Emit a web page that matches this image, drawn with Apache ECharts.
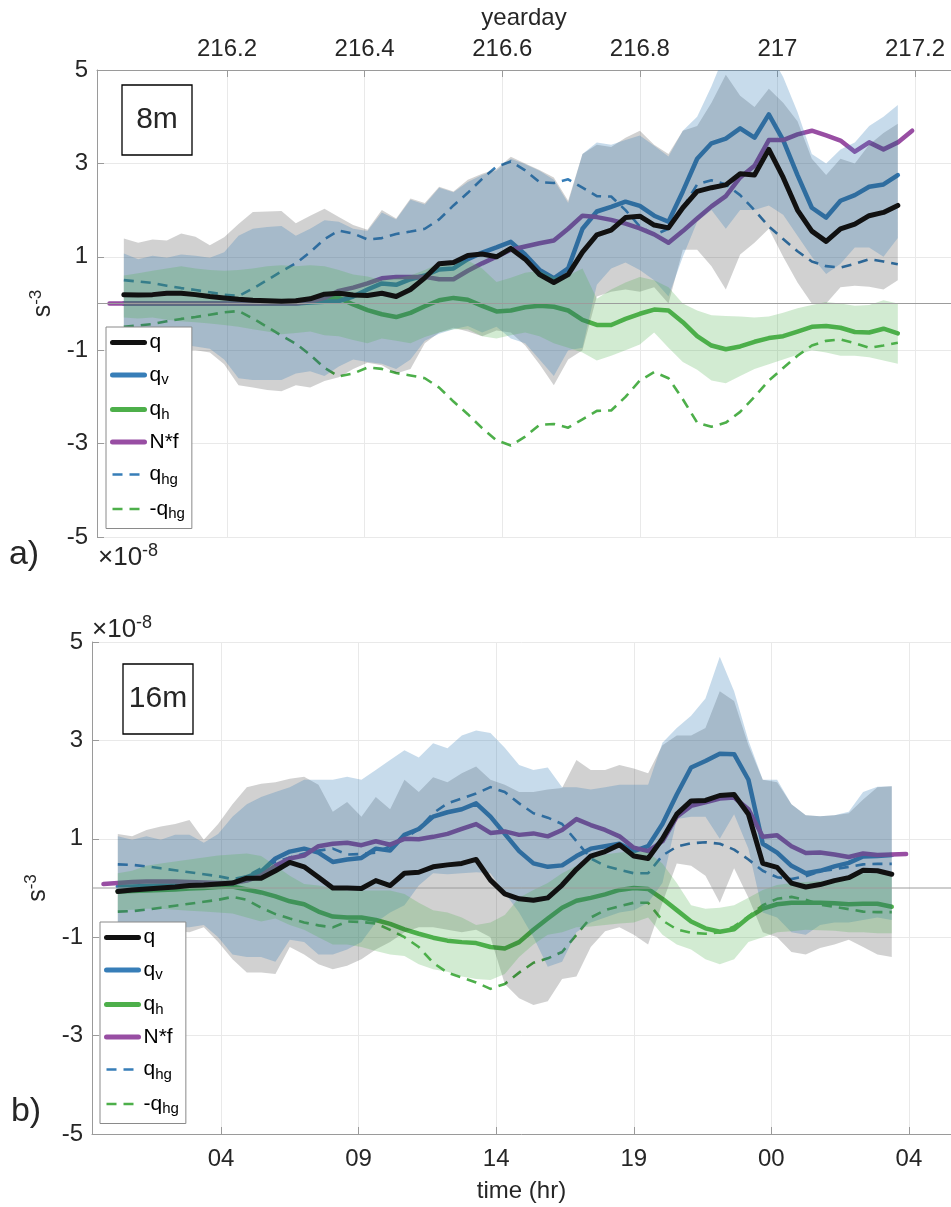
<!DOCTYPE html>
<html>
<head>
<meta charset="utf-8">
<script src="https://cdn.jsdelivr.net/npm/echarts@6/dist/echarts.min.js"></script>
<style>
  html, body { margin: 0; padding: 0; background: #fff; }
  #chart { width: 951px; height: 1207px; }
</style>
</head>
<body>
<div id="chart"></div>
<script>
// Sample times: hours after 00:00 of yearday 216, half-hourly
const HOURS = [0.7,1.2,1.7,2.2,2.7,3.2,3.7,4.2,4.7,5.2,5.7,6.2,6.7,7.2,7.7,8.2,8.7,9.2,9.7,10.2,
  10.7,11.2,11.7,12.2,12.7,13.2,13.7,14.2,14.7,15.2,15.7,16.2,16.7,17.2,17.7,18.2,18.7,19.2,19.7,20.2,
  20.7,21.2,21.7,22.2,22.7,23.2,23.7,24.2,24.7,25.2,25.7,26.2,26.7,27.2,27.7,28.2,28.7];

// ---- 8 m (units of 1e-8 s^-3); arrays below start at HOURS[1] unless noted ----
const q8 = [0.19,0.18,0.19,0.22,0.22,0.19,0.15,0.12,0.09,0.07,
  0.06,0.05,0.06,0.1,0.2,0.22,0.18,0.17,0.22,0.15,
  0.3,0.55,0.85,0.88,1.03,1.06,1.0,1.18,0.95,0.62,
  0.45,0.62,1.1,1.47,1.57,1.84,1.87,1.68,1.62,2.05,
  2.4,2.48,2.54,2.78,2.75,3.3,2.7,2.0,1.55,1.33,
  1.6,1.7,1.88,1.95,2.1];
const qv8 = [0,0,0,0,0,0,0,0,0,0,
  0,0,0,0.02,0.04,0.05,0.15,0.3,0.43,0.4,
  0.52,0.6,0.73,0.75,0.95,1.09,1.2,1.32,1.05,0.72,
  0.54,0.75,1.6,1.97,2.07,2.18,2.09,1.88,1.75,2.4,
  3.1,3.43,3.53,3.75,3.55,4.05,3.5,2.75,2.05,1.84,
  2.2,2.32,2.5,2.55,2.75];
const qh8 = [0,0,0,0,0,0,0,0,0,0,
  0,0,0.02,0.06,0.13,0.12,-0.02,-0.14,-0.23,-0.29,
  -0.2,-0.06,0.07,0.12,0.08,-0.05,-0.17,-0.15,-0.08,-0.05,
  -0.07,-0.15,-0.35,-0.46,-0.46,-0.33,-0.22,-0.13,-0.15,-0.4,
  -0.7,-0.9,-0.98,-0.92,-0.82,-0.74,-0.7,-0.6,-0.5,-0.48,
  -0.52,-0.61,-0.62,-0.54,-0.64];
// N*f starts at HOURS[0]
const nf8 = [0,
  0,0,0,0,0,0,0,0,0,0,
  0,0,0,0.04,0.12,0.27,0.34,0.43,0.54,0.57,
  0.57,0.57,0.52,0.52,0.7,0.86,1.0,1.15,1.22,1.29,
  1.35,1.6,1.88,1.85,1.79,1.71,1.61,1.48,1.3,1.55,
  1.82,2.08,2.3,2.7,2.95,3.5,3.5,3.62,3.7,3.6,
  3.49,3.25,3.45,3.3,3.45,
  3.7];
const qhg8 = [0.5,0.47,0.44,0.38,0.33,0.29,0.24,0.19,0.16,0.32,
  0.5,0.69,0.86,1.1,1.38,1.56,1.5,1.37,1.4,1.49,
  1.54,1.6,1.8,2.1,2.37,2.67,2.93,3.04,2.85,2.6,
  2.58,2.66,2.48,2.3,2.29,2.0,1.65,1.47,1.6,2.05,
  2.55,2.64,2.55,2.32,2.0,1.65,1.38,1.12,0.9,0.8,
  0.77,0.85,0.95,0.9,0.84];
const negQhg8 = [-0.5,-0.47,-0.44,-0.38,-0.33,-0.29,-0.24,-0.19,-0.16,-0.32,
  -0.5,-0.69,-0.86,-1.1,-1.38,-1.56,-1.5,-1.37,-1.4,-1.49,
  -1.54,-1.6,-1.8,-2.1,-2.37,-2.67,-2.93,-3.04,-2.85,-2.6,
  -2.58,-2.66,-2.48,-2.3,-2.29,-2.0,-1.65,-1.47,-1.6,-2.05,
  -2.55,-2.64,-2.55,-2.32,-2.0,-1.65,-1.38,-1.12,-0.9,-0.8,
  -0.77,-0.85,-0.95,-0.9,-0.84];
// spread envelopes, 8 m
const qHi8 = [1.39,1.3,1.37,1.35,1.5,1.43,1.25,1.42,1.7,1.96,
  1.97,1.98,1.72,1.88,2.03,1.85,1.68,1.58,2.0,1.82,
  2.25,2.15,2.5,2.4,2.65,2.78,2.88,3.14,3.0,2.86,
  2.7,2.2,3.2,3.4,3.35,3.55,3.7,3.4,3.2,3.7,
  3.8,4.3,4.9,4.45,4.21,4.6,4.3,3.9,3.1,2.75,
  3.1,3.0,3.4,3.65,3.85];
const qLo8 = [-1.0,-1.05,-1.0,-1.05,-1.0,-1.0,-1.05,-1.3,-1.75,-1.8,
  -1.85,-1.88,-1.75,-1.8,-1.66,-1.58,-1.4,-1.27,-1.32,-1.5,
  -1.4,-0.85,-0.62,-0.52,-0.6,-0.7,-0.58,-0.62,-0.9,-1.3,
  -1.75,-1.2,-1.0,0.15,0.25,0.3,0.25,0.35,0.0,1.15,
  1.15,0.8,0.3,1.05,1.3,1.6,1.0,0.45,0.0,0.0,
  0.35,0.38,0.36,0.3,0.5];
const qvHi8 = [1.07,0.95,1.02,0.98,1.05,1.02,0.98,1.1,1.45,1.6,
  1.64,1.66,1.45,1.6,1.78,1.75,1.6,1.55,1.95,1.8,
  2.22,2.12,2.48,2.38,2.6,2.75,2.85,3.1,2.98,2.84,
  2.65,2.15,3.2,3.45,3.4,3.5,3.6,3.38,3.15,3.7,
  4.0,4.65,5.4,5.4,5.2,5.4,4.85,4.1,3.2,3.0,
  3.3,3.45,3.8,4.0,4.25];
const qvLo8 = [-0.85,-0.9,-0.85,-0.9,-0.88,-0.92,-0.97,-1.2,-1.6,-1.64,
  -1.64,-1.64,-1.5,-1.45,-1.55,-1.35,-1.2,-1.25,-1.29,-1.4,
  -1.2,-0.8,-0.65,-0.55,-0.48,-0.62,-0.5,-0.75,-0.85,-1.2,
  -1.55,-1.0,-0.95,0.4,0.75,0.88,0.72,0.5,0.15,1.0,
  1.75,2.0,1.6,2.0,2.0,2.1,1.9,1.45,1.0,0.63,
  0.85,1.2,1.2,1.0,1.4];
const qhHi8 = [0.6,0.65,0.7,0.75,0.8,0.75,0.72,0.7,0.72,0.75,
  0.8,0.82,0.8,0.82,0.8,0.72,0.62,0.58,0.5,0.54,
  0.6,0.72,0.86,0.88,0.92,0.75,0.46,0.55,0.66,0.7,
  0.57,0.6,0.75,0.1,0.3,0.45,0.57,0.5,0.35,0.0,
  -0.15,-0.25,-0.27,-0.28,-0.3,-0.28,-0.2,-0.1,-0.03,0.03,
  0.0,-0.05,-0.03,0.07,0.0];
const qhLo8 = [-0.3,-0.32,-0.3,-0.35,-0.38,-0.4,-0.43,-0.46,-0.5,-0.55,
  -0.6,-0.66,-0.63,-0.6,-0.68,-0.7,-0.78,-0.85,-0.75,-0.8,
  -0.85,-0.72,-0.62,-0.55,-0.55,-0.7,-0.75,-0.68,-0.62,-0.7,
  -0.85,-0.95,-1.05,-1.22,-1.12,-1.0,-0.88,-0.62,-0.95,-1.25,
  -1.42,-1.65,-1.71,-1.55,-1.4,-1.3,-1.2,-1.1,-1.0,-1.05,
  -1.12,-1.12,-1.15,-1.22,-1.29];

// ---- 16 m ----
const q16 = [-0.07,-0.04,-0.02,0.0,0.02,0.05,0.06,0.08,0.1,0.2,
  0.2,0.35,0.52,0.43,0.22,0.0,0.0,-0.01,0.15,0.05,
  0.3,0.32,0.43,0.47,0.5,0.58,0.16,-0.12,-0.22,-0.25,
  -0.2,0.06,0.38,0.65,0.74,0.88,0.65,0.6,1.0,1.5,
  1.77,1.78,1.88,1.9,1.5,0.5,0.42,0.1,0.02,0.07,
  0.15,0.21,0.36,0.35,0.28];
const qv16 = [0.03,0.03,0.04,0.05,0.05,0.06,0.07,0.08,0.1,0.22,
  0.33,0.6,0.74,0.8,0.72,0.53,0.58,0.61,0.8,0.76,
  1.08,1.2,1.45,1.54,1.6,1.72,1.45,1.1,0.75,0.5,
  0.43,0.46,0.65,0.8,0.85,0.9,0.75,0.85,1.3,1.9,
  2.45,2.58,2.73,2.72,2.2,0.9,0.72,0.45,0.3,0.35,
  0.44,0.51,0.64,0.65,0.67];
const qh16 = [-0.07,-0.06,-0.05,-0.04,-0.03,-0.01,0.0,0.02,0.03,-0.03,
  -0.09,-0.17,-0.27,-0.33,-0.48,-0.58,-0.6,-0.6,-0.65,-0.73,
  -0.84,-0.93,-1.01,-1.07,-1.1,-1.12,-1.2,-1.23,-1.1,-0.85,
  -0.62,-0.4,-0.26,-0.2,-0.13,-0.04,0.0,-0.02,-0.22,-0.45,
  -0.68,-0.82,-0.89,-0.84,-0.6,-0.42,-0.33,-0.3,-0.3,-0.3,
  -0.31,-0.33,-0.32,-0.32,-0.38];
// N*f starts at HOURS[0]
const nf16 = [0.08,
  0.1,0.12,0.13,0.13,0.13,0.12,0.11,0.1,0.1,0.15,
  0.25,0.45,0.6,0.66,0.85,0.9,0.92,0.87,0.95,0.88,
  1.0,0.99,1.04,1.1,1.2,1.3,1.12,1.15,1.08,1.11,
  1.05,1.18,1.4,1.28,1.18,1.05,0.82,0.75,0.95,1.45,
  1.67,1.74,1.82,1.84,1.6,1.04,1.07,0.85,0.71,0.72,
  0.68,0.63,0.7,0.67,0.68,
  0.69];
const qhg16 = [0.48,0.47,0.44,0.4,0.36,0.32,0.28,0.24,0.18,0.24,
  0.4,0.53,0.62,0.7,0.76,0.8,0.68,0.69,0.72,0.85,
  1.0,1.2,1.52,1.72,1.82,1.92,2.05,1.95,1.72,1.52,
  1.43,1.3,0.95,0.6,0.45,0.37,0.3,0.3,0.66,0.84,
  0.91,0.93,0.9,0.78,0.58,0.35,0.22,0.18,0.24,0.34,
  0.38,0.43,0.48,0.49,0.49];
const negQhg16 = [-0.48,-0.47,-0.44,-0.4,-0.36,-0.32,-0.28,-0.24,-0.18,-0.24,
  -0.4,-0.53,-0.62,-0.7,-0.76,-0.8,-0.68,-0.69,-0.72,-0.85,
  -1.0,-1.2,-1.52,-1.72,-1.82,-1.92,-2.05,-1.95,-1.72,-1.52,
  -1.43,-1.3,-0.95,-0.6,-0.45,-0.37,-0.3,-0.3,-0.66,-0.84,
  -0.91,-0.93,-0.9,-0.78,-0.58,-0.35,-0.22,-0.18,-0.24,-0.34,
  -0.38,-0.43,-0.48,-0.49,-0.49];
// spread envelopes, 16 m
const qHi16 = [1.1,1.05,1.18,1.25,1.3,1.38,0.98,1.3,1.7,2.05,
  2.12,2.15,2.22,2.26,2.1,1.55,1.75,1.45,1.85,1.6,
  2.2,1.95,2.25,2.15,2.33,2.47,2.2,2.1,1.95,1.95,
  2.0,2.03,2.6,2.4,2.4,2.5,2.43,2.33,2.9,3.1,
  3.1,3.25,4.0,3.8,2.9,2.2,2.15,1.7,1.48,1.46,
  1.48,1.52,1.8,2.05,2.07];
const qLo16 = [-0.85,-0.9,-0.85,-0.9,-0.88,-0.9,-0.8,-1.1,-1.45,-1.72,
  -1.72,-1.75,-1.2,-1.35,-1.55,-1.65,-1.58,-1.45,-1.25,-1.1,
  -0.9,-0.8,-0.8,-0.85,-0.9,-0.85,-1.0,-1.95,-2.24,-2.38,
  -2.3,-1.85,-1.8,-1.2,-0.88,-0.8,-0.95,-1.15,-0.3,0.5,
  0.45,0.25,-0.3,0.4,-0.2,-0.9,-1.0,-1.3,-1.35,-1.22,
  -1.15,-1.05,-1.2,-1.35,-1.4];
const qvHi16 = [1.05,0.98,1.05,0.98,1.08,1.08,0.92,1.1,1.45,1.7,
  1.85,1.95,2.05,2.2,2.2,2.2,2.26,2.2,2.4,2.6,
  2.8,2.65,2.94,2.84,3.1,3.2,3.15,2.85,2.5,2.4,
  2.45,2.05,2.05,2.0,2.05,2.1,2.1,2.1,2.95,3.25,
  3.5,3.85,4.7,4.0,3.0,2.2,2.2,1.7,1.48,1.46,
  1.48,1.55,1.95,2.06,2.07];
const qvLo16 = [-0.8,-0.82,-0.8,-0.82,-0.8,-0.8,-0.75,-1.0,-1.35,-1.4,
  -1.4,-1.5,-1.05,-1.1,-1.35,-1.35,-1.25,-1.1,-0.7,-0.5,
  -0.35,0.05,0.3,0.28,0.3,0.32,0.3,-0.1,-0.5,-1.0,
  -1.6,-1.5,-0.9,-0.7,-0.6,-0.5,-0.45,-0.3,0.1,1.4,
  1.45,1.45,1.0,1.5,0.8,-0.5,-0.6,-0.9,-0.95,-0.75,
  -0.7,-0.7,-0.65,-0.6,-0.65];
const qhHi16 = [0.3,0.35,0.45,0.5,0.54,0.58,0.62,0.66,0.68,0.7,
  0.65,0.45,0.25,0.08,0.05,0.0,-0.05,-0.05,-0.05,-0.05,
  -0.12,-0.3,-0.45,-0.5,-0.6,-0.75,-0.7,-0.55,-0.2,-0.04,
  0.1,0.3,0.45,0.6,0.68,0.72,0.74,0.72,0.5,0.1,
  -0.35,-0.42,-0.4,-0.35,-0.2,-0.04,0.06,0.1,0.12,0.14,
  0.16,0.22,0.3,0.3,0.3];
const qhLo16 = [-0.45,-0.44,-0.42,-0.42,-0.44,-0.46,-0.48,-0.5,-0.52,-0.6,
  -0.68,-0.62,-0.75,-0.85,-1.0,-1.15,-1.15,-1.2,-1.28,-1.35,
  -1.38,-1.55,-1.65,-1.7,-1.8,-1.85,-1.87,-1.75,-1.4,-1.15,
  -0.95,-0.9,-0.8,-0.78,-0.75,-0.72,-0.7,-0.6,-0.95,-1.15,
  -1.25,-1.45,-1.55,-1.45,-1.1,-1.0,-0.9,-0.88,-0.85,-0.86,
  -0.87,-0.9,-0.9,-0.92,-0.92];

// legend entries, in display order
const LEGEND_NAMES = ['q', 'q_v', 'q_h', 'N*f', 'q_hg', '-q_hg'];
const Y_TICKS = [-5, -3, -1, 1, 3, 5];

// ---- styling ----
const FONT = '"Liberation Sans", Arial, Helvetica, sans-serif';
const C_BLACK = '#111111', C_BLUE = '#377eb8', C_GREEN = '#4daf4a', C_PURPLE = '#984ea3';
const AXIS_GRAY = '#9a9a9a', GRID_GRAY = '#e9e9e9', TEXT = '#262626';

const toDay = h => 216 + h / 24;

function lineSeries(name, vals, start, color, width, dashed, gi, z) {
  return {
    type: 'line', name, xAxisIndex: gi, yAxisIndex: gi,
    data: vals.map((v, i) => [toDay(HOURS[i + start]), v]),
    symbol: 'none', showSymbol: false, silent: true, z,
    lineStyle: { color, width, type: dashed ? [10, 7] : 'solid', join: 'round', cap: dashed ? 'butt' : 'round' },
    itemStyle: { color }, emphasis: { disabled: true }
  };
}

function bandSeries(upper, lower, start, fill, gi) {
  const xs = upper.map((_, i) => toDay(HOURS[i + start]));
  return {
    type: 'custom', xAxisIndex: gi, yAxisIndex: gi, clip: true, silent: true, z: 3,
    data: [[xs[0], lower[0]]], encode: { x: 0, y: 1 },
    renderItem(params, api) {
      const pts = [];
      for (let i = 0; i < xs.length; i++) pts.push(api.coord([xs[i], upper[i]]));
      for (let i = xs.length - 1; i >= 0; i--) pts.push(api.coord([xs[i], lower[i]]));
      return { type: 'polygon', shape: { points: pts }, style: { fill } };
    }
  };
}

function zeroLine(gi, xmin, xmax) {
  return {
    type: 'line', xAxisIndex: gi, yAxisIndex: gi, data: [[xmin, 0], [xmax, 0]],
    symbol: 'none', silent: true, z: 4,
    lineStyle: { color: '#9c9c9c', width: 1 }, emphasis: { disabled: true }
  };
}

function panelSeries(gi, d) {
  return [
    lineSeries('q_hg', d.qhg, 1, C_BLUE, 2.6, true, gi, 2),
    lineSeries('-q_hg', d.negQhg, 1, C_GREEN, 2.6, true, gi, 2),
    lineSeries('q_h', d.qh, 1, C_GREEN, 4.5, false, gi, 2),
    lineSeries('q_v', d.qv, 1, C_BLUE, 4.5, false, gi, 2),
    lineSeries('N*f', d.nf, 0, C_PURPLE, 4.5, false, gi, 2),
    bandSeries(d.qHi, d.qLo, 1, 'rgba(0,0,0,0.18)', gi),
    bandSeries(d.qvHi, d.qvLo, 1, 'rgba(55,126,184,0.28)', gi),
    bandSeries(d.qhHi, d.qhLo, 1, 'rgba(77,175,74,0.25)', gi),
    zeroLine(gi, d.xmin, d.xmax),
    lineSeries('q', d.q, 1, C_BLACK, 5, false, gi, 5)
  ];
}

// axis extents (yearday) of the two panels
const X8 = [216.011, 217.2523];
const X16 = [216.0125, 217.2611];

const onTick = v => Math.abs(v * 5 - Math.round(v * 5)) < 1e-6;
const fmtDay = v => onTick(v) ? String(+(Math.round(v * 10) / 10).toFixed(1)) : '';
const fmtHour = v => {
  if (!onTick(v)) return '';
  const h = Math.floor((v - Math.floor(v)) * 24 + 1e-6);
  return String(h).padStart(2, '0');
};

function xAxis(gi, ext, pos, fmt, name, nameGap, margin) {
  return {
    type: 'value', gridIndex: gi, position: pos, min: ext[0], max: ext[1],
    minInterval: 0.2, maxInterval: 0.2, splitNumber: 6,
    name, nameLocation: 'middle', nameGap,
    nameTextStyle: { fontSize: 24, color: TEXT, fontFamily: FONT },
    axisLine: { show: true, onZero: false, lineStyle: { color: AXIS_GRAY, width: 1 } },
    axisTick: { show: true, inside: true, length: 7, lineStyle: { color: AXIS_GRAY } },
    axisLabel: { formatter: fmt, fontSize: 24, color: TEXT, fontFamily: FONT, margin,
      showMinLabel: false, showMaxLabel: false },
    splitLine: { show: true, lineStyle: { color: GRID_GRAY, width: 1 } }
  };
}

function yAxis(gi) {
  return {
    type: 'value', gridIndex: gi, min: Y_TICKS[0], max: Y_TICKS[Y_TICKS.length - 1], interval: 2,
    name: '{b|s}{p|-3}', nameLocation: 'middle', nameGap: 35, nameRotate: 90,
    nameTextStyle: { color: TEXT, fontFamily: FONT, rich: {
      b: { fontSize: 25, lineHeight: 26, verticalAlign: 'bottom', fontFamily: FONT, color: TEXT },
      p: { fontSize: 17, lineHeight: 26, padding: [0, 0, 11, 0], verticalAlign: 'bottom', fontFamily: FONT, color: TEXT }
    } },
    axisLine: { show: true, onZero: false, lineStyle: { color: AXIS_GRAY, width: 1 } },
    axisTick: { show: true, inside: true, length: 7, lineStyle: { color: AXIS_GRAY } },
    axisLabel: { fontSize: 24, color: TEXT, fontFamily: FONT, margin: 9 },
    splitLine: { show: true, lineStyle: { color: GRID_GRAY, width: 1 } }
  };
}

const LEGEND_RICH = {
  m: { fontSize: 21, lineHeight: 24, verticalAlign: 'middle', color: '#000', fontFamily: FONT },
  s: { fontSize: 15, lineHeight: 20, padding: [10, 0, 0, 0], verticalAlign: 'middle', color: '#000', fontFamily: FONT }
};
function legendLabel(name) {
  const k = name.indexOf('_');
  if (k < 0) return '{m|' + name + '}';
  return '{m|' + name.slice(0, k) + '}{s|' + name.slice(k + 1) + '}';
}
function legend(left, top) {
  return {
    orient: 'vertical', left, top, selectedMode: false,
    itemWidth: 32, itemHeight: 14, itemGap: 9.5,
    padding: [5, 7, 7, 4],
    backgroundColor: '#fff', borderColor: '#8a8a8a', borderWidth: 1, borderRadius: 0,
    itemStyle: { opacity: 0 },
    textStyle: { rich: LEGEND_RICH, fontFamily: FONT },
    formatter: legendLabel,
    data: LEGEND_NAMES.map(n => ({ name: n, lineStyle: { width: n.indexOf('hg') >= 0 ? 2.6 : 5 } }))
  };
}

const SUP_RICH = {
  a: { fontSize: 26, lineHeight: 28, verticalAlign: 'bottom', fill: TEXT, fontFamily: FONT },
  e: { fontSize: 18, lineHeight: 28, padding: [0, 0, 11, 0], verticalAlign: 'bottom', fill: TEXT, fontFamily: FONT }
};
function text(x, y, str, size, extra) {
  return Object.assign({ type: 'text', x, y, silent: true,
    style: { text: str, fontSize: size, fontFamily: FONT, fill: TEXT, align: 'center', verticalAlign: 'middle' } }, extra || {});
}
function depthBox(x, y, w, h, label) {
  return [
    { type: 'rect', shape: { x, y, width: w, height: h }, silent: true,
      style: { fill: 'none', stroke: '#000', lineWidth: 1.3 } },
    text(x + w / 2, y + h / 2, label, 30)
  ];
}
function scaleText(x, y) {
  return { type: 'text', x, y, silent: true,
    style: { text: '{a|×10}{e|-8}', rich: SUP_RICH, align: 'left', verticalAlign: 'middle', fontFamily: FONT, fill: TEXT } };
}

const chart = echarts.init(document.getElementById('chart'), null, { renderer: 'canvas' });
chart.setOption({
  animation: false,
  backgroundColor: '#fff',
  textStyle: { fontFamily: FONT },
  grid: [
    { left: 97, top: 70, width: 854, height: 467, containLabel: false },
    { left: 92, top: 642, width: 859, height: 492, containLabel: false }
  ],
  xAxis: [
    xAxis(0, X8, 'top', fmtDay, 'yearday', 40, 9),
    xAxis(1, X16, 'bottom', fmtHour, 'time (hr)', 45, 13)
  ],
  yAxis: [yAxis(0), yAxis(1)],
  legend: [legend(106, 327), legend(100, 922)],
  series: [
    ...panelSeries(0, { q: q8, qv: qv8, qh: qh8, nf: nf8, qhg: qhg8, negQhg: negQhg8,
      qHi: qHi8, qLo: qLo8, qvHi: qvHi8, qvLo: qvLo8, qhHi: qhHi8, qhLo: qhLo8, xmin: X8[0], xmax: X8[1] }),
    ...panelSeries(1, { q: q16, qv: qv16, qh: qh16, nf: nf16, qhg: qhg16, negQhg: negQhg16,
      qHi: qHi16, qLo: qLo16, qvHi: qvHi16, qvLo: qvLo16, qhHi: qhHi16, qhLo: qhLo16, xmin: X16[0], xmax: X16[1] })
  ],
  graphic: [
    ...depthBox(122, 85, 70, 70, '8m'),
    ...depthBox(123, 664, 70, 70, '16m'),
    text(24, 555, 'a)', 34),
    text(26, 1112, 'b)', 34),
    scaleText(98, 557),
    scaleText(92, 629)
  ]
});
</script>
</body>
</html>
